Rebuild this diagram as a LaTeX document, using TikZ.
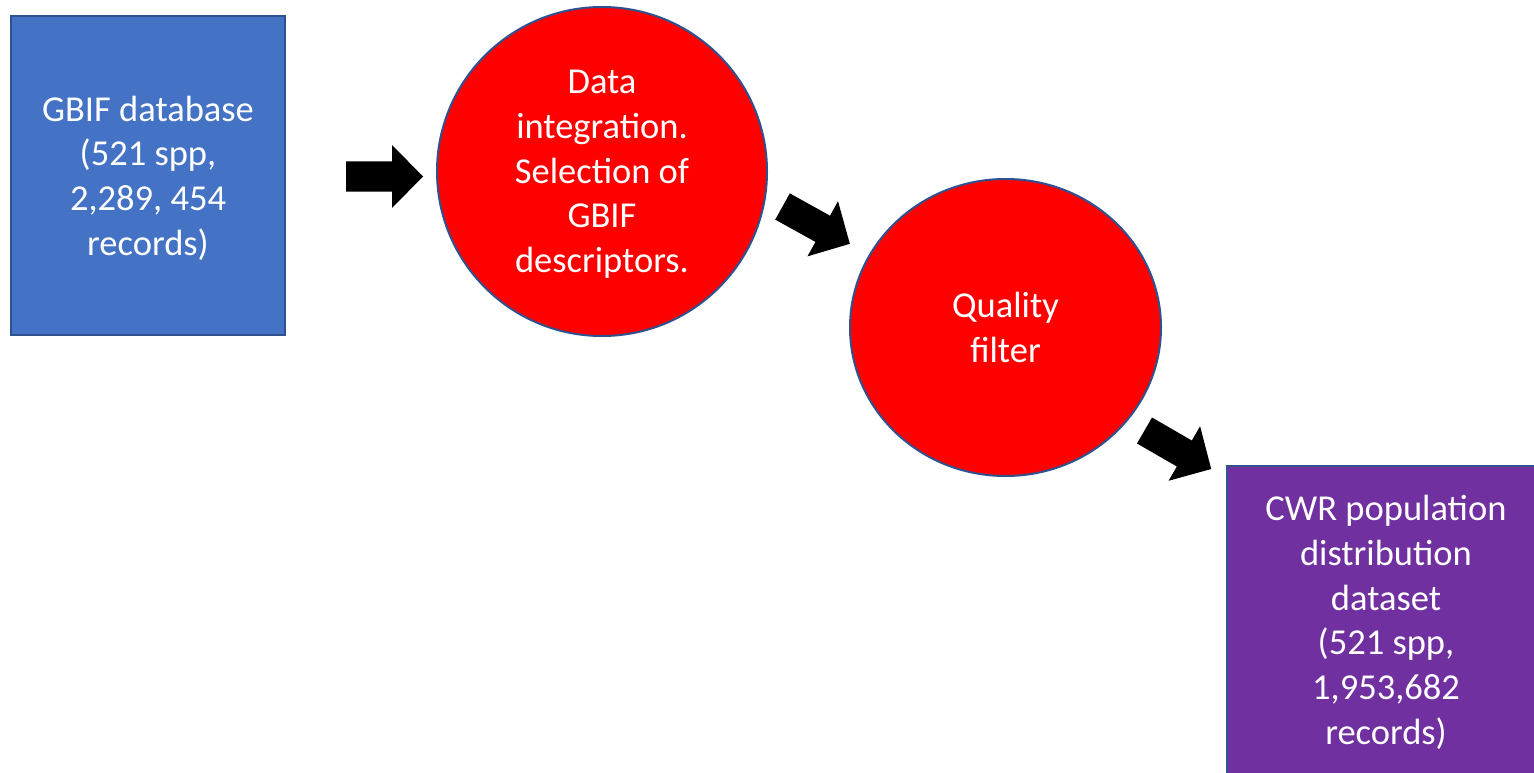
\documentclass[tikz,border=0pt]{standalone}
\usepackage{fontspec}
\setmainfont{Carlito}
\usetikzlibrary{shapes.geometric}
\definecolor{boxblue}{HTML}{4472C4}
\definecolor{edgeblue}{HTML}{2F528F}
\definecolor{boxpurple}{HTML}{7030A0}
\begin{document}
\begin{tikzpicture}[x=1pt,y=-1pt,
  lbl/.style={text=white, align=center, font=\fontsize{36.5}{44.7}\selectfont, inner sep=0pt},
  sqbox/.style={lbl, draw=edgeblue, line width=2pt, rectangle},
  stage/.style={lbl, draw=edgeblue, line width=2pt, ellipse, fill=red},
  blockarr/.pic={\fill[black] (0,-15) -- (46,-15) -- (46,-31.5) -- (77,0) -- (46,31.5) -- (46,15) -- (0,15) -- cycle;}]
\clip (0,0) rectangle (1534,773);
\fill[white] (0,0) rectangle (1534,773);
\node[sqbox, fill=boxblue, text depth=0pt, minimum width=274pt, minimum height=319pt] (gbif) at (148,175.5)
  {GBIF database\\(521 spp,\\2,289, 454\\records)};
\node[stage, text depth=0pt, minimum width=330pt, minimum height=329pt] (integ) at (602,171.5)
  {Data\\integration.\\Selection of\\GBIF\\descriptors.};
\node[stage, minimum width=311pt, minimum height=297pt] (qual) at (1005.5,327.5)
  {Quality\\filter};
\node[sqbox, fill=boxpurple, minimum width=318pt, minimum height=313pt] (cwr) at (1386,622.5)
  {CWR population\\distribution\\dataset\\(521 spp,\\1,953,682\\records)};
\coordinate (a1) at (346,176.5);
\coordinate (a2) at (782.5,206.5);
\coordinate (a3) at (1144.5,430.5);
\pic at (a1) {blockarr};
\pic[rotate=-29] at (a2) {blockarr};
\pic[rotate=-30] at (a3) {blockarr};
\end{tikzpicture}
\end{document}
